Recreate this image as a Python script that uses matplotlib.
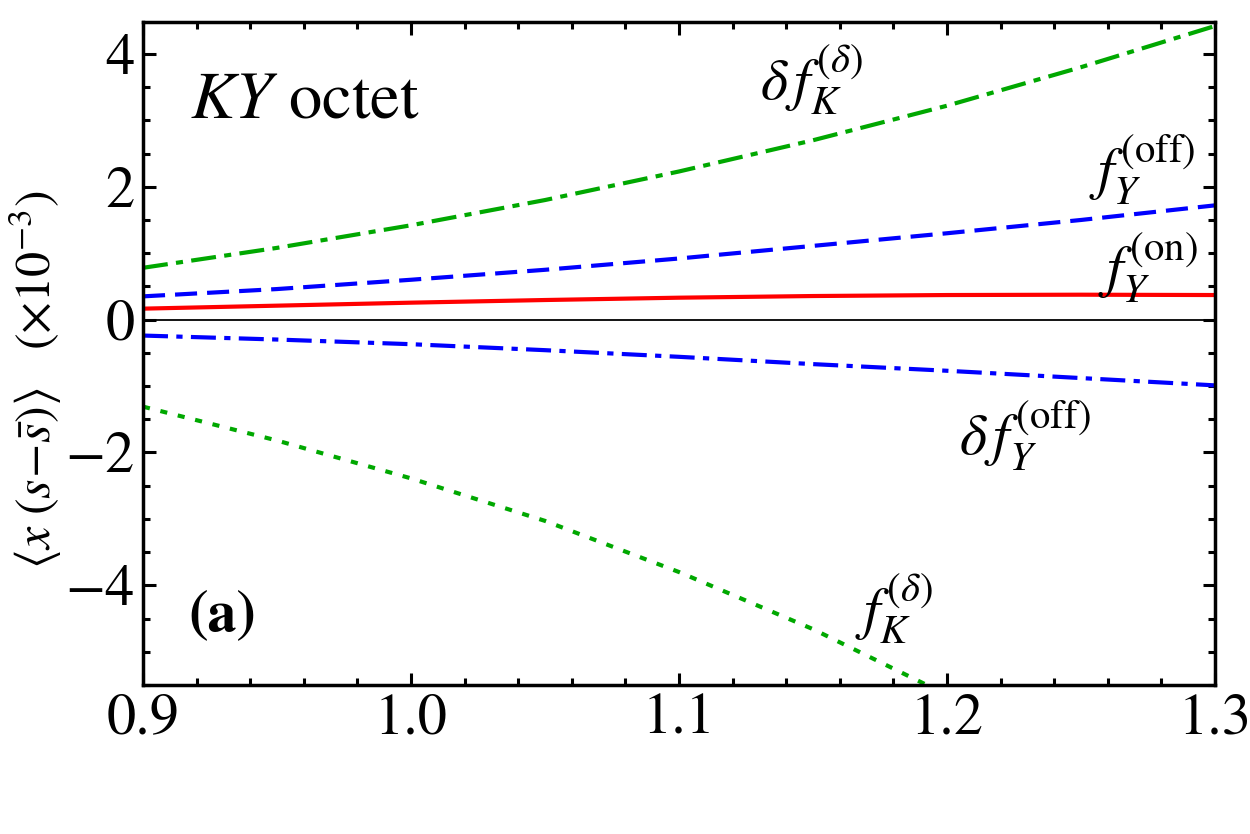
import matplotlib
matplotlib.use("Agg")
import matplotlib.pyplot as plt
from matplotlib.ticker import MultipleLocator, FormatStrFormatter, FuncFormatter

plt.rcParams['font.family'] = ['STIXGeneral', 'DejaVu Serif']
plt.rcParams['mathtext.fontset'] = 'stix'

# values (units of 1e-3)
x = [0.90, 0.95, 1.00, 1.05, 1.10, 1.15, 1.20, 1.25, 1.30]
dfK_delta = [0.78, 1.08, 1.42, 1.80, 2.23, 2.70, 3.22, 3.80, 4.42]
fY_off = [0.35, 0.46, 0.60, 0.75, 0.92, 1.11, 1.30, 1.50, 1.72]
fY_on = [0.165, 0.21, 0.255, 0.295, 0.33, 0.355, 0.37, 0.375, 0.37]
dfY_off = [-0.24, -0.30, -0.37, -0.46, -0.56, -0.67, -0.77, -0.88, -0.99]
fK_delta = [-1.31, -1.82, -2.39, -3.03, -3.80, -4.66, -5.65, -6.7, -7.8]

green = '#00a800'
blue = '#0000ff'
red = '#ff0000'

fig = plt.figure(figsize=(12.5, 8.34), dpi=100)
ax = fig.add_axes([0.1144, 0.1787, 0.8576, 0.7949])

lw = 3.0
ax.axhline(0, color='black', lw=1.3, zorder=1)
ax.plot(x, dfK_delta, color=green, lw=lw, dashes=(6, 2, 1.7, 2))
ax.plot(x, fY_off, color=blue, lw=lw, dashes=(5.3, 2.4))
ax.plot(x, fY_on, color=red, lw=lw)
ax.plot(x, dfY_off, color=blue, lw=lw, dashes=(6, 2, 1.5, 2))
ax.plot(x, fK_delta, color=green, lw=lw, dashes=(1.7, 2.6))

ax.set_xlim(0.9, 1.3)
ax.set_ylim(-5.5, 4.48)

ax.xaxis.set_major_locator(MultipleLocator(0.1))
ax.xaxis.set_minor_locator(MultipleLocator(0.02))
ax.yaxis.set_major_locator(MultipleLocator(2))
ax.yaxis.set_minor_locator(MultipleLocator(0.5))
ax.xaxis.set_major_formatter(FormatStrFormatter('%.1f'))
ax.yaxis.set_major_formatter(FuncFormatter(lambda v, p: f"{v:.0f}".replace('-', '\u2212')))

ax.tick_params(which='both', direction='in', top=True, right=True, width=2.2)
ax.tick_params(which='major', length=9, labelsize=42, pad=6)
ax.tick_params(which='minor', length=5)
for s in ax.spines.values():
    s.set_linewidth(2.5)

fs = 42
ax.text(0.9175, 3.04, r'$KY$ octet', fontsize=48, va='baseline', ha='left')
ax.text(0.9295, -4.48, '(a)', fontsize=42, fontweight='bold', va='center', ha='center')
ax.text(1.1496, 3.61, r'$\delta\, f_K^{(\delta)}$', fontsize=fs, va='center', ha='center')
ax.text(1.273, 2.25, r'$f_Y^{(\mathrm{off})}$', fontsize=fs, va='center', ha='center')
ax.text(1.275, 0.78, r'$f_Y^{(\mathrm{on})}$', fontsize=fs, va='center', ha='center')
ax.text(1.229, -1.75, r'$\delta\, f_Y^{(\mathrm{off})}$', fontsize=fs, va='center', ha='center')
ax.text(1.180, -4.35, r'$f_K^{(\delta)}$', fontsize=fs, va='center', ha='center')

fig.text(0.029, 0.545, r'$\langle x\ (s\!-\!\bar{s})\rangle\quad(\times 10^{-3})$',
         fontsize=36, rotation=90, ha='center', va='center')

fig.savefig('out.png', dpi=100)
